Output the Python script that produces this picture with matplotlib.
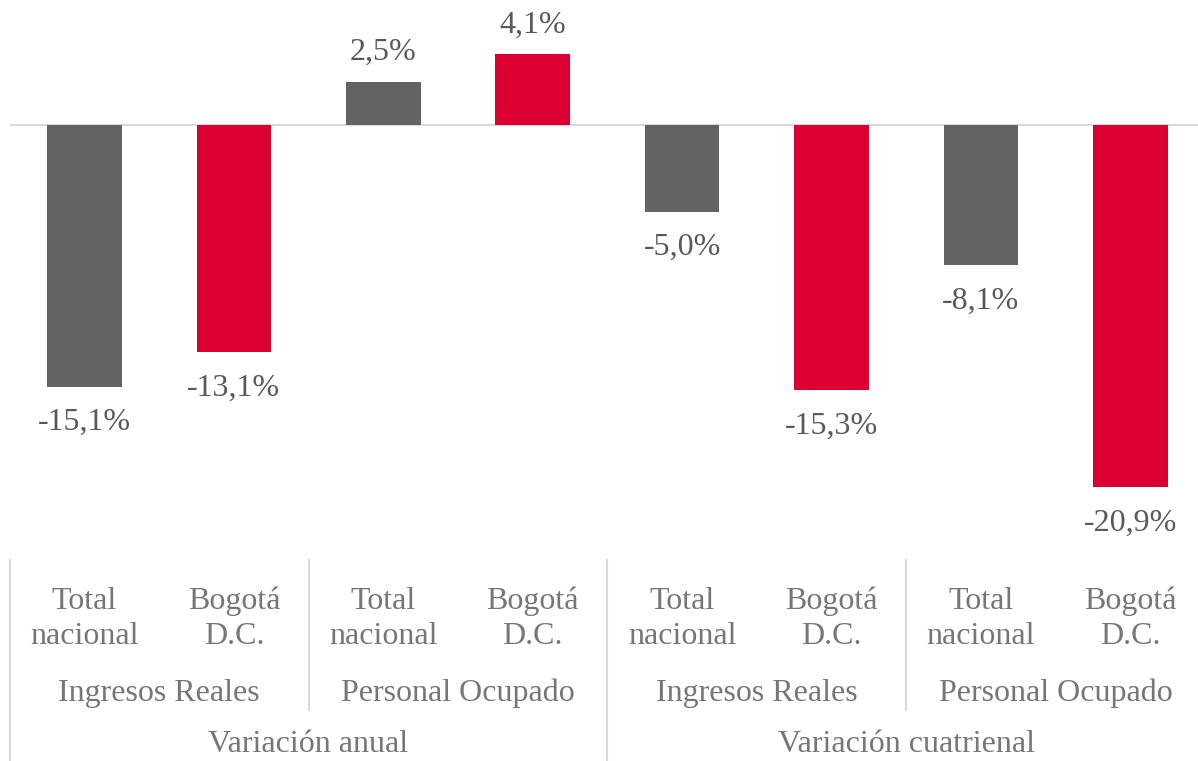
import matplotlib.pyplot as plt
from matplotlib.transforms import blended_transform_factory
from matplotlib.lines import Line2D

regions = ['Total\nnacional', 'Bogotá\nD.C.'] * 4
variables = ['Ingresos Reales', 'Personal Ocupado', 'Ingresos Reales', 'Personal Ocupado']
periods = ['Variación anual', 'Variación cuatrienal']
values = [-15.1, -13.1, 2.5, 4.1, -5.0, -15.3, -8.1, -20.9]
colors = ['#636363', '#dc0032'] * 4

plt.rcParams['font.family'] = ['Liberation Serif', 'DejaVu Serif']
W, H = 1198, 761
fig = plt.figure(figsize=(W / 100, H / 100), dpi=100)

# plot area in pixels: x 9.75..1205, y 0..540, zero at 125
px_unit = 17.33
x0, x1 = 9.75, 1205.0
ax = fig.add_axes([x0 / W, (H - 540) / H, (x1 - x0) / W, 540 / H])
n = len(values)
ax.set_xlim(-0.5, n - 0.5)
ax.set_ylim(-(540 - 125) / px_unit, 125 / px_unit)
ax.axis('off')

x = list(range(n))
ax.bar(x, values, width=0.5, color=colors, zorder=2)
ax.axhline(0, color='#d9d9d9', lw=1.5, zorder=1)

fs = 23
for xi, v in zip(x, values):
    lbl = f'{v:.1f}%'.replace('.', ',')
    off = 29 if v >= 0 else -36
    ax.annotate(lbl, (xi, v), xytext=(0, off), textcoords='offset pixels',
                ha='center', va='center', fontsize=fs, color='#595959')

tr = blended_transform_factory(ax.transData, fig.transFigure)
def fy(py):
    return (H - py) / H

txt_color = '#767676'
for xi, r in zip(x, regions):
    ax.text(xi, fy(619), r, transform=tr, ha='center', va='center',
            fontsize=fs, color=txt_color, linespacing=1.29)
for i, v in enumerate(variables):
    ax.text(2 * i + 0.5, fy(693), v, transform=tr, ha='center', va='center',
            fontsize=fs, color=txt_color)
for i, p in enumerate(periods):
    ax.text(4 * i + 1.5, fy(745), p, transform=tr, ha='center', va='center',
            fontsize=fs, color=txt_color)

# separators of the category axis
for b in range(0, n + 1, 2):
    bottom = 761 if b % 4 == 0 else 710
    fig.add_artist(Line2D([b - 0.5, b - 0.5], [fy(560), fy(bottom)], transform=tr,
                          color='#d9d9d9', lw=1.5))

fig.savefig('out.png', dpi=100)
